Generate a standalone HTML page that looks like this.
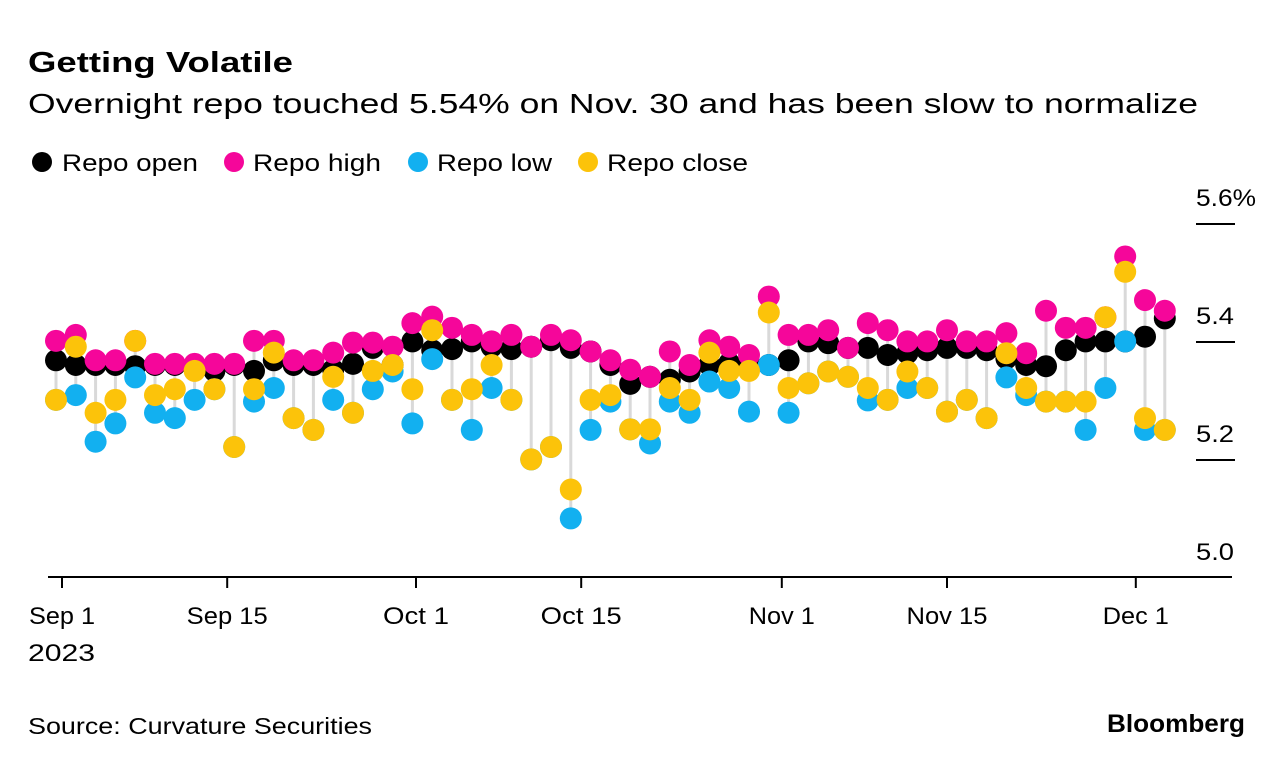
<!DOCTYPE html>
<html><head><meta charset="utf-8">
<style>
body{margin:0;background:#fff;width:1285px;height:768px;overflow:hidden;font-family:"Liberation Sans",Arial,sans-serif;}
svg text{font-family:"Liberation Sans",Arial,sans-serif;}
</style></head>
<body>
<svg id="chart" width="1285" height="768">
<text x="28" y="72" font-size="29" font-weight="bold" fill="#000" textLength="265" lengthAdjust="spacingAndGlyphs">Getting Volatile</text>
<text x="28" y="113" font-size="28" fill="#000" textLength="1170" lengthAdjust="spacingAndGlyphs">Overnight repo touched 5.54% on Nov. 30 and has been slow to normalize</text>
<g>
<circle cx="42" cy="162" r="10" fill="#000"/>
<text x="62" y="171" font-size="24" textLength="136" lengthAdjust="spacingAndGlyphs">Repo open</text>
<circle cx="234" cy="162" r="10" fill="#f5069a"/>
<text x="253" y="171" font-size="24" textLength="128" lengthAdjust="spacingAndGlyphs">Repo high</text>
<circle cx="418" cy="162" r="10" fill="#12b0f0"/>
<text x="437" y="171" font-size="24" textLength="115" lengthAdjust="spacingAndGlyphs">Repo low</text>
<circle cx="588" cy="162" r="10" fill="#fcc30a"/>
<text x="607" y="171" font-size="24" textLength="141" lengthAdjust="spacingAndGlyphs">Repo close</text>
</g>
<g id="yaxis"></g>
<g id="xaxis"></g>
<g id="stems"></g>
<g id="dots"></g>
<text x="28" y="734" font-size="23" textLength="344" lengthAdjust="spacingAndGlyphs">Source: Curvature Securities</text>
<text x="1107" y="732" font-size="25" font-weight="bold" textLength="138" lengthAdjust="spacingAndGlyphs">Bloomberg</text>
</svg>
<script>
const openV=[5.369,5.361,5.361,5.361,5.359,5.361,5.361,5.359,5.351,5.361,5.351,5.369,5.361,5.361,5.353,5.363,5.390,5.361,5.401,5.386,5.388,5.401,5.392,5.388,5.392,5.403,5.390,5.384,5.361,5.329,5.341,5.336,5.350,5.361,5.364,5.364,5.361,5.369,5.401,5.398,5.390,5.390,5.378,5.381,5.386,5.390,5.390,5.386,5.372,5.361,5.359,5.386,5.401,5.401,5.401,5.409,5.440];
const highV=[5.402,5.412,5.369,5.369,5.402,5.363,5.363,5.363,5.363,5.363,5.402,5.402,5.369,5.369,5.382,5.399,5.399,5.392,5.432,5.443,5.424,5.412,5.401,5.412,5.392,5.412,5.403,5.384,5.369,5.353,5.341,5.384,5.361,5.403,5.392,5.378,5.477,5.412,5.412,5.420,5.390,5.432,5.420,5.401,5.401,5.420,5.401,5.401,5.415,5.381,5.453,5.424,5.424,5.442,5.545,5.471,5.453];
const lowV=[5.302,5.310,5.231,5.262,5.340,5.280,5.271,5.302,5.320,5.222,5.299,5.322,5.271,5.251,5.302,5.280,5.320,5.350,5.262,5.371,5.302,5.251,5.322,5.302,5.201,5.222,5.101,5.251,5.299,5.252,5.228,5.299,5.280,5.333,5.322,5.282,5.361,5.280,5.330,5.350,5.341,5.301,5.302,5.322,5.322,5.282,5.302,5.271,5.340,5.310,5.299,5.299,5.251,5.322,5.401,5.251,5.251];
const closeV=[5.302,5.392,5.280,5.302,5.402,5.310,5.320,5.351,5.320,5.222,5.320,5.382,5.271,5.251,5.341,5.280,5.351,5.361,5.320,5.420,5.302,5.320,5.361,5.302,5.201,5.222,5.150,5.302,5.310,5.252,5.252,5.322,5.302,5.382,5.351,5.351,5.450,5.322,5.330,5.350,5.341,5.322,5.302,5.350,5.322,5.282,5.302,5.271,5.381,5.322,5.299,5.299,5.299,5.442,5.519,5.271,5.251];
const yTicks=[5.0,5.2,5.4,5.6];
const yTickLabels=["5.0","5.2","5.4","5.6%"];
const xTickDays=[0,14,30,44,61,75,91];
const xTickLabels=["Sep 1","Sep 15","Oct 1","Oct 15","Nov 1","Nov 15","Dec 1"];

const NS="http://www.w3.org/2000/svg";
function y(v){return 578-(v-5.0)*590;}
function xi(i){return 56+i*19.8;}
function xd(d){return 62+d*11.8;}
function mk(tag,attrs,parent){const e=document.createElementNS(NS,tag);for(const k in attrs)e.setAttribute(k,attrs[k]);parent.appendChild(e);return e;}

const ya=document.getElementById('yaxis');
yTicks.forEach((t,i)=>{
  const lbl=yTickLabels[i];
  const tx=mk('text',{x:1196,y:y(t)-18,'font-size':24,textLength:(lbl.length>3?60:38),lengthAdjust:'spacingAndGlyphs'},ya);
  tx.textContent=lbl;
  
  
  if(t>5.0){
    const l=mk('line',{x1:1196,x2:1235,y1:y(t),y2:y(t),stroke:'#000','stroke-width':2},ya);
    
    
  }
});
const xa=document.getElementById('xaxis');
const al=mk('line',{x1:48,x2:1232,y1:577,y2:577,stroke:'#000','stroke-width':2},xa);


xTickDays.forEach((d,i)=>{
  const l=mk('line',{x1:xd(d),x2:xd(d),y1:577,y2:588,stroke:'#000','stroke-width':2},xa);
  
  
  const lbl=xTickLabels[i];
  const w=lbl.length>5?81:66;
  const t=mk('text',{x:xd(d)-w/2,y:624,'font-size':24,textLength:w,lengthAdjust:'spacingAndGlyphs'},xa);
  t.textContent=lbl;
  
  
});
const yr=mk('text',{x:28,y:661,'font-size':24,textLength:67,lengthAdjust:'spacingAndGlyphs'},xa);
yr.textContent="2023";



const st=document.getElementById('stems');
highV.forEach((h,i)=>{
  const l=mk('line',{x1:xi(i),x2:xi(i),y1:y(h),y2:y(lowV[i]),stroke:'#d9d9d9','stroke-width':3},st);
  
  
});
const dg=document.getElementById('dots');
const series=[[openV,'#000','open-dot'],[lowV,'#12b0f0','low-dot'],[highV,'#f5069a','high-dot'],[closeV,'#fcc30a','close-dot']];
series.forEach(s=>{
  s[0].forEach((v,i)=>{
    const c=mk('circle',{cx:xi(i),cy:y(v),r:11,fill:s[1]},dg);
    
    
  });
});
</script>
</body></html>
